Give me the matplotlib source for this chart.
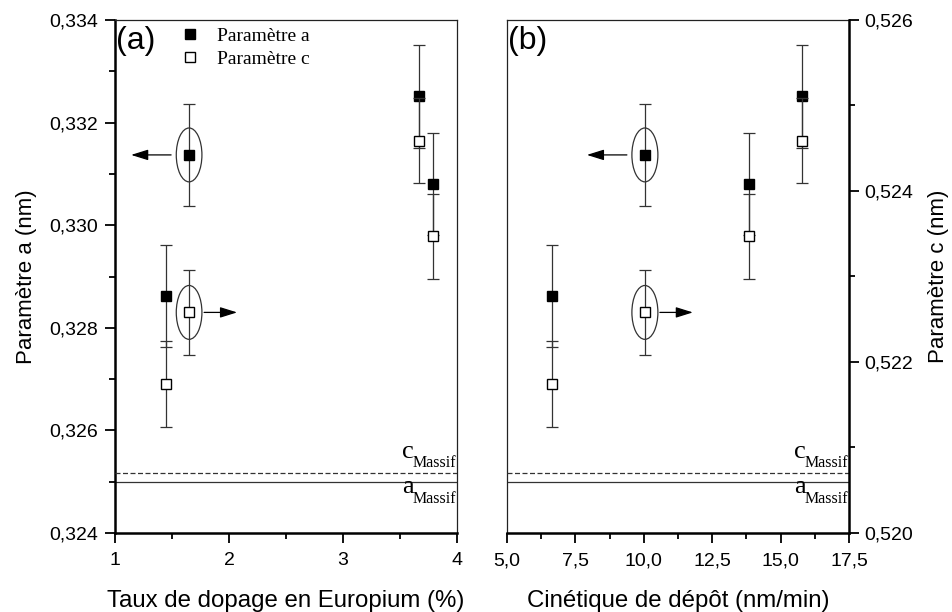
import matplotlib
matplotlib.use('Agg')
import matplotlib.pyplot as plt
from matplotlib.patches import Ellipse
from matplotlib.lines import Line2D
from matplotlib.ticker import MultipleLocator, FuncFormatter
from matplotlib.transforms import offset_copy

plt.rcParams['font.family'] = ['Liberation Sans', 'DejaVu Sans']

# ---- data ----
dopage = [1.45, 1.65, 3.67, 3.79]
a_dopage = [0.32862, 0.33137, 0.33251, 0.33080]
c_dopage = [0.52174, 0.52258, 0.52459, 0.52347]
cinetique = [6.63, 10.04, 13.83, 15.79]
a_cinetique = [0.32862, 0.33137, 0.33080, 0.33251]
c_cinetique = [0.52174, 0.52258, 0.52347, 0.52459]
err_a = 0.001
err_c = 0.0005
a_massif = 0.3250
c_massif = 0.5207
highlight = 1
a_lim = (0.324, 0.334)
c_lim = (0.520, 0.526)
xlim_a = (1, 4)
xlim_b = (5.0, 17.5)
legend_labels = ['Paramètre a', 'Paramètre c']

W, H = 952, 612
fig = plt.figure(figsize=(W / 100, H / 100), dpi=100)
ax1 = fig.add_axes([115 / W, 1 - 533 / H, 342 / W, 513 / H])
ax2 = fig.add_axes([507 / W, 1 - 533 / H, 342 / W, 513 / H])
ax1c = ax1.twinx()
ax2c = ax2.twinx()

fmt3 = FuncFormatter(lambda v, p: f'{v:.3f}'.replace('.', ','))
fmt1 = FuncFormatter(lambda v, p: f'{v:.1f}'.replace('.', ','))
fmt0 = FuncFormatter(lambda v, p: f'{v:.0f}')

ecol = '#333333'
serif = 'Liberation Serif'
eb = dict(ms=6.5, mec='black', ecolor=ecol, elinewidth=0.9, capsize=4.5,
          capthick=0.9, ls='none')
arrow = dict(arrowstyle='-|>,head_length=0.8,head_width=0.25', color='black',
             lw=0.9, mutation_scale=13, shrinkA=0, shrinkB=0)

panels = [
    (ax1, ax1c, dopage, a_dopage, c_dopage, xlim_a, 0.225),
    (ax2, ax2c, cinetique, a_cinetique, c_cinetique, xlim_b, 0.95),
]

for ax, axc, x, a, c, xl, ew in panels:
    ax.set_xlim(*xl)
    ax.set_ylim(*a_lim)
    axc.set_ylim(*c_lim)
    ax.errorbar(x, a, yerr=err_a, marker='s', mfc='black', zorder=3, **eb)
    axc.errorbar(x, c, yerr=err_c, marker='s', mfc='white', zorder=3, **eb)
    ax.axhline(a_massif, color=ecol, lw=0.9)
    axc.axhline(c_massif, color=ecol, lw=0.9, ls=(0, (4, 2)))
    # highlight ellipses and arrows
    i = highlight
    ax.add_patch(Ellipse((x[i], a[i]), ew, 0.00105, fill=False, ec=ecol, lw=0.9))
    axc.add_patch(Ellipse((x[i], c[i]), ew, 0.00063, fill=False, ec=ecol, lw=0.9))
    ax.annotate('', xy=(x[i], a[i]),
                xycoords=offset_copy(ax.transData, x=-58, y=0, units='dots'),
                xytext=(x[i], a[i]),
                textcoords=offset_copy(ax.transData, x=-18, y=0, units='dots'),
                arrowprops=arrow)
    axc.annotate('', xy=(x[i], c[i]),
                 xycoords=offset_copy(axc.transData, x=48, y=0, units='dots'),
                 xytext=(x[i], c[i]),
                 textcoords=offset_copy(axc.transData, x=15, y=0, units='dots'),
                 arrowprops=arrow)
    # Massif labels (letter + lowered subscript)
    ax.annotate('a', xy=(1, a_massif), xycoords=('axes fraction', 'data'),
                xytext=(-43, -11), textcoords='offset pixels', ha='right',
                va='baseline', fontsize=19, family=serif)
    ax.annotate('Massif', xy=(1, a_massif), xycoords=('axes fraction', 'data'),
                xytext=(-1, -21), textcoords='offset pixels', ha='right',
                va='baseline', fontsize=11.5, family=serif)
    axc.annotate('c', xy=(1, c_massif), xycoords=('axes fraction', 'data'),
                 xytext=(-43, 15), textcoords='offset pixels', ha='right',
                 va='baseline', fontsize=19, family=serif)
    axc.annotate('Massif', xy=(1, c_massif), xycoords=('axes fraction', 'data'),
                 xytext=(-1, 6), textcoords='offset pixels', ha='right',
                 va='baseline', fontsize=11.5, family=serif)
    for sp in ax.spines.values():
        sp.set_linewidth(0.9)
        sp.set_color('#222222')
    for sp in axc.spines.values():
        sp.set_visible(False)
    ax.spines['bottom'].set_linewidth(1.8)
    ax.spines['bottom'].set_color('black')
    ax.tick_params(axis='x', which='both', direction='out', top=False,
                   labelsize=14, width=1.3, pad=7)
    ax.tick_params(axis='x', which='major', length=7)
    ax.tick_params(axis='x', which='minor', length=4)
    ax.tick_params(axis='y', which='both', right=False)
    axc.tick_params(axis='y', which='both', left=False)

# panel (a)
ax1.spines['left'].set_linewidth(1.8)
ax1.spines['left'].set_color('black')
ax1.xaxis.set_major_locator(MultipleLocator(1))
ax1.xaxis.set_minor_locator(MultipleLocator(0.5))
ax1.xaxis.set_major_formatter(fmt0)
ax1.yaxis.set_major_locator(MultipleLocator(0.002))
ax1.yaxis.set_minor_locator(MultipleLocator(0.001))
ax1.yaxis.set_major_formatter(fmt3)
ax1.tick_params(axis='y', which='both', direction='out', labelsize=14,
                width=1.3, pad=5)
ax1.tick_params(axis='y', which='major', length=7)
ax1.tick_params(axis='y', which='minor', length=4)
ax1c.tick_params(axis='y', which='both', right=False, labelright=False)
ax1.set_xlabel('Taux de dopage en Europium (%)', fontsize=17.3, labelpad=15)
ax1.set_ylabel('Paramètre a (nm)', fontsize=16, labelpad=9)
ax1.text(0.004, 0.988, '(a)', transform=ax1.transAxes, fontsize=23,
         va='top', ha='left')

# panel (b)
ax2.spines['right'].set_visible(False)
ax2c.spines['right'].set_visible(True)
ax2c.spines['right'].set_linewidth(1.8)
ax2c.spines['right'].set_color('black')
ax2.xaxis.set_major_locator(MultipleLocator(2.5))
ax2.xaxis.set_minor_locator(MultipleLocator(1.25))
ax2.xaxis.set_major_formatter(fmt1)
ax2.tick_params(axis='y', which='both', left=False, labelleft=False)
ax2c.yaxis.set_major_locator(MultipleLocator(0.002))
ax2c.yaxis.set_minor_locator(MultipleLocator(0.001))
ax2c.yaxis.set_major_formatter(fmt3)
ax2c.tick_params(axis='y', which='both', direction='out', labelsize=14,
                 width=1.3, pad=4)
ax2c.tick_params(axis='y', which='major', length=7)
ax2c.tick_params(axis='y', which='minor', length=4)
ax2.set_xlabel('Cinétique de dépôt (nm/min)', fontsize=17.3, labelpad=15)
ax2c.set_ylabel('Paramètre c (nm)', fontsize=16, labelpad=11)
ax2.text(0.004, 0.988, '(b)', transform=ax2.transAxes, fontsize=23,
         va='top', ha='left')

# legend
handles = [Line2D([], [], marker='s', ls='none', mfc='black', mec='black', ms=6.5),
           Line2D([], [], marker='s', ls='none', mfc='white', mec='black', ms=6.5)]
ax1c.legend(handles, legend_labels, loc='upper left', bbox_to_anchor=(0.181, 0.994),
            frameon=False, prop={'family': serif, 'size': 14},
            handlelength=0.9, handletextpad=0.95, borderpad=0.2,
            borderaxespad=0, labelspacing=0.3)

fig.savefig('out.png', dpi=100)
